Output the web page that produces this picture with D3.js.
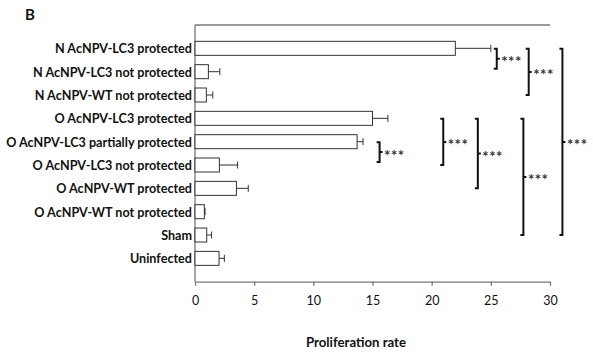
<!DOCTYPE html>
<html><head><meta charset="utf-8">
<script src="https://cdn.jsdelivr.net/npm/d3@7"></script>
<style>body{margin:0;background:#fff}svg{display:block}</style>
</head><body>
<svg id="c" width="593" height="353"></svg>
<script>
const categories = ["N AcNPV-LC3 protected","N AcNPV-LC3 not protected","N AcNPV-WT not protected","O AcNPV-LC3 protected","O AcNPV-LC3 partially protected","O AcNPV-LC3 not protected","O AcNPV-WT protected","O AcNPV-WT not protected","Sham","Uninfected"];
const values = [22.0,1.13,0.96,15.0,13.7,2.06,3.5,0.79,0.99,2.03];
const errors = [3.0,0.97,0.54,1.3,0.5,1.54,1.0,0.06,0.41,0.45];
const xTicks = [0,5,10,15,20,25,30];
// brackets: from category index, to category index, x position in data units
const brackets = [
  {from:0, to:1, x:25.5},
  {from:0, to:2, x:28.2},
  {from:0, to:8, x:31.05},
  {from:4, to:5, x:15.6},
  {from:3, to:5, x:20.98},
  {from:3, to:6, x:23.9},
  {from:3, to:8, x:27.75}
];
const svg = d3.select("#c");
const L=195, R=550, T=25, B=281.7;
const x = d3.scaleLinear().domain([0,30]).range([L,R]);
const y = d3.scalePoint().domain(categories).range([T,B]).padding(1);
const bh = 14;
const font = "Lato, 'Open Sans', sans-serif";

svg.append("text").attr("x",25).attr("y",19.5).attr("font-family",font).attr("font-weight","bold").attr("font-size",15).attr("fill","#111").text("B");

// frame top line
svg.append("line").attr("x1",L).attr("x2",R).attr("y1",T).attr("y2",T).attr("stroke","#777").attr("stroke-width",1.3);

// x axis
const ax = svg.append("g").attr("transform",`translate(0,${B})`)
  .call(d3.axisBottom(x).tickValues(xTicks).tickSize(4).tickSizeOuter(0).tickPadding(10));
ax.select(".domain").attr("stroke","#777").attr("stroke-width",1.3);
ax.selectAll(".tick line").attr("stroke","#777").attr("stroke-width",1.3);
ax.selectAll("text").attr("font-family",font).attr("font-size",12.5).attr("fill","#111");

// y axis
const ay = svg.append("g").attr("transform",`translate(${L},0)`)
  .call(d3.axisLeft(y).tickSize(0).tickPadding(3));
ay.select(".domain").attr("stroke","#777").attr("stroke-width",1.3).attr("d",`M0,${T}V${B}`);
ay.selectAll("text").attr("font-family",font).attr("font-weight","bold").attr("font-size",12.6).attr("fill","#111").attr("dy","0.36em");

// bars
svg.selectAll("rect.bar").data(categories).join("rect").attr("class","bar")
  .attr("x",x(0)).attr("y",d=>y(d)-bh/2)
  .attr("width",(d,i)=>x(values[i])-x(0)).attr("height",bh)
  .attr("fill","#fff").attr("stroke","#333").attr("stroke-width",1);

// error bars
const eb = svg.append("g").attr("stroke","#333").attr("stroke-width",1);
categories.forEach((c,i)=>{
  const x0=x(values[i]), x1=x(values[i]+errors[i]), yy=y(c);
  eb.append("line").attr("x1",x0).attr("x2",x1).attr("y1",yy).attr("y2",yy);
  eb.append("line").attr("x1",x1).attr("x2",x1).attr("y1",yy-3.5).attr("y2",yy+3.5);
});

// significance brackets
const bg = svg.append("g");
brackets.forEach(b=>{
  const xx=x(b.x), y1=y(categories[b.from])+0.5, y2=y(categories[b.to])+(b.to-b.from===1?-3:0);
  const ym=(y1+y2)/2;
  bg.append("path").attr("d",`M${xx-3},${y1}H${xx}V${y2}H${xx-3}M${xx},${ym}H${xx+3}`)
    .attr("fill","none").attr("stroke","#111").attr("stroke-width",2);
  bg.append("text").attr("x",xx+4.5).attr("y",ym+8.5).attr("font-family",font).attr("font-weight","bold").attr("font-size",15).attr("letter-spacing",0.5).attr("fill","#333").text("***");
});

svg.append("text").attr("x",356).attr("y",346.5).attr("text-anchor","middle")
  .attr("font-family",font).attr("font-weight","bold").attr("font-size",13.2).attr("fill","#111").text("Proliferation rate");
</script>
</body></html>
